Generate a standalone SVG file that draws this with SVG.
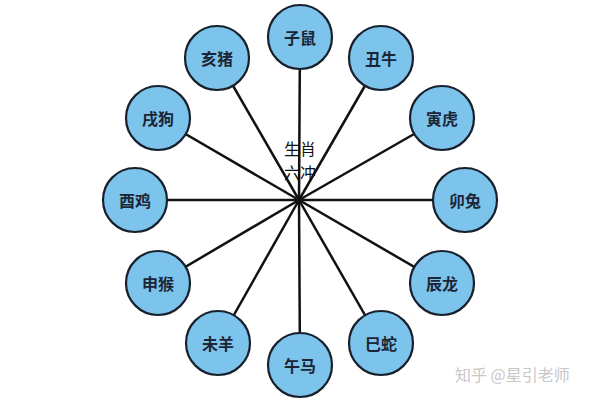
<svg xmlns="http://www.w3.org/2000/svg" width="600" height="400" viewBox="0 0 600 400">
<style>
.node circle{fill:#7cc4ec;stroke:#17202c;stroke-width:2.2}
.node text{font-family:"Noto Sans CJK SC","Noto Sans",sans-serif;font-size:16px;font-weight:bold;fill:#1c2536;text-anchor:middle;dominant-baseline:central}
.conn line{stroke:#111;stroke-width:2.5}
.hub{font-family:"Noto Sans CJK SC","Noto Sans",sans-serif;font-size:16px;fill:#111;text-anchor:middle}
.wm{font-family:"Noto Sans CJK SC","Noto Sans",sans-serif;font-size:16px;fill:#c8c8c8}
</style>
<rect width="600" height="400" fill="#fff"/>
<g id="connectors" class="conn">
<line x1="299" y1="200" x2="300" y2="37"/>
<line x1="299" y1="200" x2="381" y2="58"/>
<line x1="299" y1="200" x2="442" y2="118"/>
<line x1="299" y1="200" x2="465" y2="200"/>
<line x1="299" y1="200" x2="442" y2="283"/>
<line x1="299" y1="200" x2="381" y2="343"/>
<line x1="299" y1="200" x2="300" y2="365"/>
<line x1="299" y1="200" x2="218" y2="343"/>
<line x1="299" y1="200" x2="158" y2="283"/>
<line x1="299" y1="200" x2="135" y2="200"/>
<line x1="299" y1="200" x2="158" y2="118"/>
<line x1="299" y1="200" x2="217" y2="58"/>
</g>
<g id="center"><text class="hub" x="300" y="155">生肖</text><text class="hub" x="300" y="179">六冲</text></g>
<g id="zishu" class="node"><circle cx="300" cy="37" r="32"/><text x="300" y="37">子鼠</text></g>
<g id="chouniu" class="node"><circle cx="381" cy="58" r="32"/><text x="381" y="58">丑牛</text></g>
<g id="yinhu" class="node"><circle cx="442" cy="118" r="32"/><text x="442" y="118">寅虎</text></g>
<g id="maotu" class="node"><circle cx="465" cy="200" r="32"/><text x="465" y="200">卯兔</text></g>
<g id="chenlong" class="node"><circle cx="442" cy="283" r="32"/><text x="442" y="283">辰龙</text></g>
<g id="sishe" class="node"><circle cx="381" cy="343" r="32"/><text x="381" y="343">巳蛇</text></g>
<g id="wuma" class="node"><circle cx="300" cy="365" r="32"/><text x="300" y="365">午马</text></g>
<g id="weiyang" class="node"><circle cx="218" cy="343" r="32"/><text x="218" y="343">未羊</text></g>
<g id="shenhou" class="node"><circle cx="158" cy="283" r="32"/><text x="158" y="283">申猴</text></g>
<g id="youji" class="node"><circle cx="135" cy="200" r="32"/><text x="135" y="200">酉鸡</text></g>
<g id="xugou" class="node"><circle cx="158" cy="118" r="32"/><text x="158" y="118">戌狗</text></g>
<g id="haizhu" class="node"><circle cx="217" cy="58" r="32"/><text x="217" y="58">亥猪</text></g>
<text class="wm" x="455" y="381">知乎 @星引老师</text>
</svg>
